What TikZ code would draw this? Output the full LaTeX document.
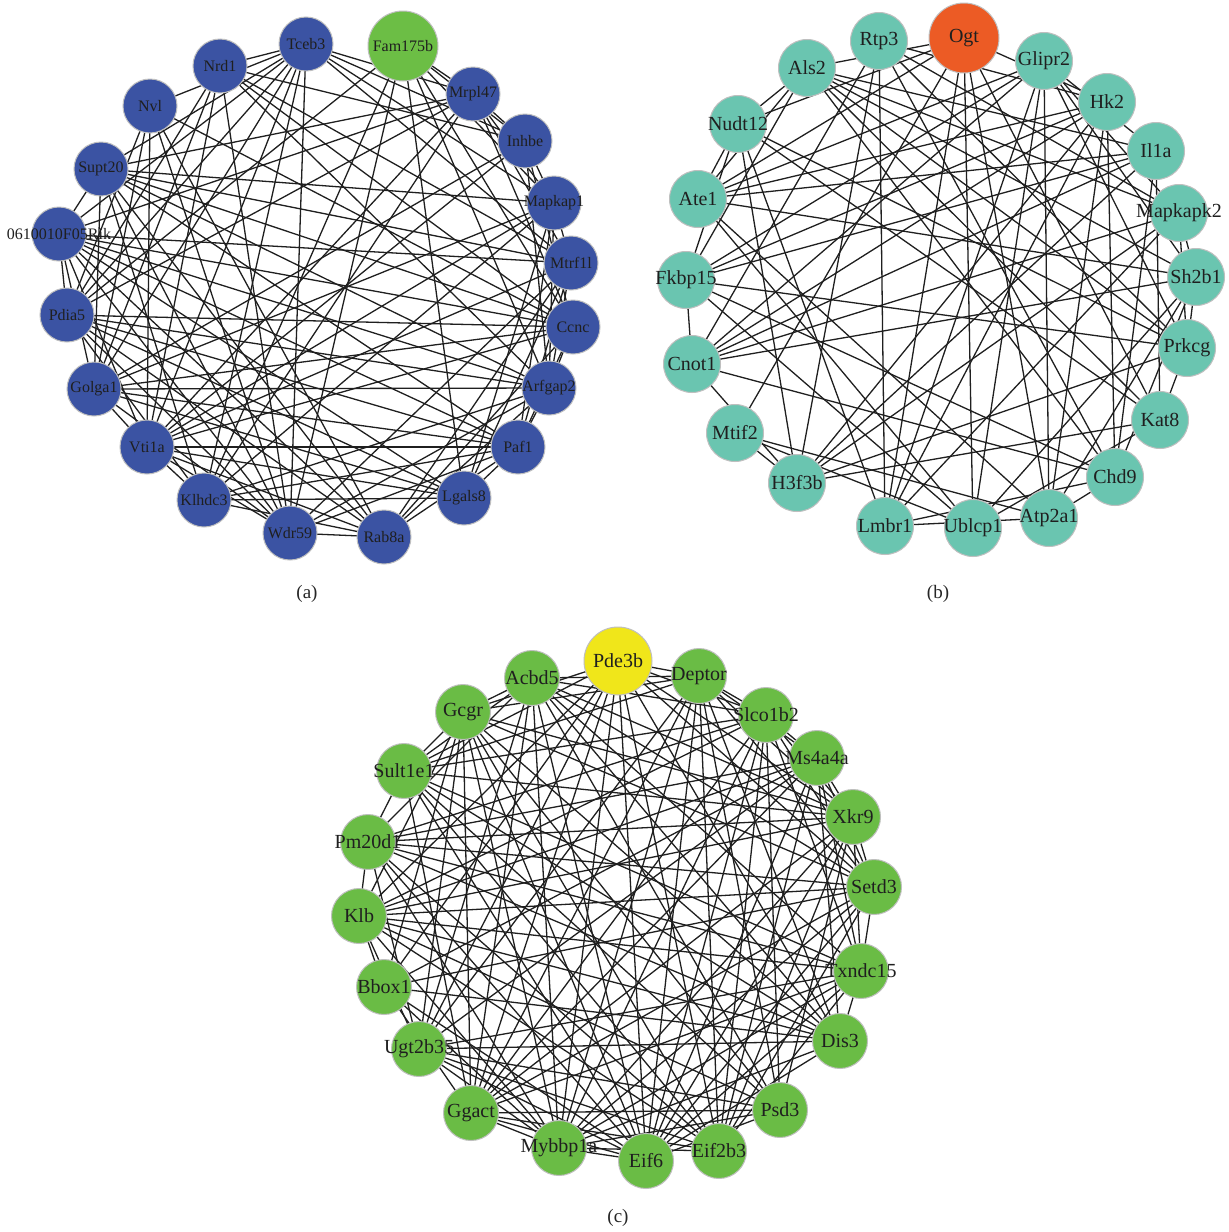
\documentclass[tikz,border=0pt]{standalone}
\usepackage{fontspec}
\setmainfont{Liberation Serif}
\pgfdeclarelayer{background}
\pgfdeclarelayer{canvas}
\pgfsetlayers{canvas,background,main}
\definecolor{ablue}{RGB}{59,83,163}
\definecolor{agreen}{RGB}{108,190,69}
\definecolor{bteal}{RGB}{106,197,176}
\definecolor{borange}{RGB}{236,91,37}
\definecolor{cyellow}{RGB}{240,230,26}
\definecolor{cgreen}{RGB}{106,188,69}
\newcommand\zw[1]{\makebox[0pt]{#1}}
\tikzset{
 gnode/.style={circle, inner sep=0pt, draw=black!25, line width=0.5pt, text=black!88},
 anode/.style={gnode, fill=ablue, minimum size=27pt, font=\fontsize{8}{9}\selectfont},
 ahub/.style={anode, fill=agreen, minimum size=35pt},
 bnode/.style={gnode, fill=bteal, minimum size=28.5pt, font=\fontsize{10}{11}\selectfont},
 bhub/.style={bnode, fill=borange, minimum size=35pt},
 cnode/.style={gnode, fill=cgreen, minimum size=27.5pt, font=\fontsize{10}{11}\selectfont},
 chub/.style={cnode, fill=cyellow, minimum size=34pt},
 edge/.style={draw=black!88, line width=0.65pt},
 panelcap/.style={font=\fontsize{9.5}{11}\selectfont, text=black!85}
}
\begin{document}
\begin{tikzpicture}[x=0.5pt,y=-0.5pt]
\begin{pgfonlayer}{canvas}
\fill[white] (0,0) rectangle (1229,1232);
\end{pgfonlayer}
\useasboundingbox (0,0) rectangle (1229,1232);
% ---------- (a) ----------
\node[anode] (a1) at (306,44) {\zw{Tceb3}};
\node[ahub]  (a2) at (403,46) {\zw{Fam175b}};
\node[anode] (a3) at (473,94) {\zw{Mrpl47}};
\node[anode] (a4) at (525,141) {\zw{Inhbe}};
\node[anode] (a5) at (554,203) {\zw{Mapkap1}};
\node[anode] (a6) at (571,263) {\zw{Mtrf1l}};
\node[anode] (a7) at (573,327) {\zw{Ccnc}};
\node[anode] (a8) at (549,388) {\zw{Arfgap2}};
\node[anode] (a9) at (518,447) {\zw{Paf1}};
\node[anode] (a10) at (464,498) {\zw{Lgals8}};
\node[anode] (a11) at (384,537) {\zw{Rab8a}};
\node[anode] (a12) at (290,533) {\zw{Wdr59}};
\node[anode] (a13) at (204,500) {\zw{Klhdc3}};
\node[anode] (a14) at (147,447) {\zw{Vti1a}};
\node[anode] (a15) at (94,389) {\zw{Golga1}};
\node[anode] (a16) at (67,315) {\zw{Pdia5}};
\node[anode] (a17) at (59,234) {\zw{0610010F05Rik}};
\node[anode] (a18) at (101,169) {\zw{Supt20}};
\node[anode] (a19) at (150,106) {\zw{Nvl}};
\node[anode] (a20) at (220,66) {\zw{Nrd1}};
\node[panelcap] (capa) at (307,594) {(a)};
% ---------- (b) ----------
\node[bnode] (b1) at (879,41) {\zw{Rtp3}};
\node[bhub]  (b2) at (964,38) {\zw{Ogt}};
\node[bnode] (b3) at (1044,61) {\zw{Glipr2}};
\node[bnode] (b4) at (1107,102) {\zw{Hk2}};
\node[bnode] (b5) at (1156,151) {\zw{Il1a}};
\node[bnode] (b6) at (1179,213) {\zw{Mapkapk2}};
\node[bnode] (b7) at (1196,277) {\zw{Sh2b1}};
\node[bnode] (b8) at (1187,348) {\zw{Prkcg}};
\node[bnode] (b9) at (1160,420) {\zw{Kat8}};
\node[bnode] (b10) at (1115,477) {\zw{Chd9}};
\node[bnode] (b11) at (1049,518) {\zw{Atp2a1}};
\node[bnode] (b12) at (973,528) {\zw{Ublcp1}};
\node[bnode] (b13) at (885,526) {\zw{Lmbr1}};
\node[bnode] (b14) at (797,483) {\zw{H3f3b}};
\node[bnode] (b15) at (735,433) {\zw{Mtif2}};
\node[bnode] (b16) at (692,364) {\zw{Cnot1}};
\node[bnode] (b17) at (686,280) {\zw{Fkbp15}};
\node[bnode] (b18) at (698,199) {\zw{Ate1}};
\node[bnode] (b19) at (738,124) {\zw{Nudt12}};
\node[bnode] (b20) at (807,68) {\zw{Als2}};
\node[panelcap] (capb) at (938,594) {(b)};
% ---------- (c) ----------
\node[chub]  (c1) at (618,661) {\zw{Pde3b}};
\node[cnode] (c2) at (699,676) {\zw{Deptor}};
\node[cnode] (c3) at (766,715) {\zw{Slco1b2}};
\node[cnode] (c4) at (817,758) {\zw{Ms4a4a}};
\node[cnode] (c5) at (853,817) {\zw{Xkr9}};
\node[cnode] (c6) at (874,887) {\zw{Setd3}};
\node[cnode] (c7) at (861,971) {\zw{Txndc15}};
\node[cnode] (c8) at (840,1041) {\zw{Dis3}};
\node[cnode] (c9) at (780,1110) {\zw{Psd3}};
\node[cnode] (c10) at (719,1151) {\zw{Eif2b3}};
\node[cnode] (c11) at (646,1161) {\zw{Eif6}};
\node[cnode] (c12) at (559,1148) {\zw{Mybbp1a}};
\node[cnode] (c13) at (471,1113) {\zw{Ggact}};
\node[cnode] (c14) at (419,1049) {\zw{Ugt2b35}};
\node[cnode] (c15) at (384,987) {\zw{Bbox1}};
\node[cnode] (c16) at (359,916) {\zw{Klb}};
\node[cnode] (c17) at (368,842) {\zw{Pm20d1}};
\node[cnode] (c18) at (404,771) {\zw{Sult1e1}};
\node[cnode] (c19) at (463,712) {\zw{Gcgr}};
\node[cnode] (c20) at (532,678) {\zw{Acbd5}};
\node[panelcap] (capc) at (618,1218) {(c)};
% ---------- edges ----------
\begin{pgfonlayer}{background}
\pgfmathsetseed{7}
\foreach \i in {1,...,19}{
  \pgfmathtruncatemacro\ip{\i+1}
  \foreach \j in {\ip,...,20}{
    \pgfmathtruncatemacro\keep{rnd<0.60?1:0}
    \ifnum\keep=1 \draw[edge] (a\i.center) -- (a\j.center);\fi
  }
}
\pgfmathsetseed{11}
\foreach \i in {1,...,19}{
  \pgfmathtruncatemacro\ip{\i+1}
  \foreach \j in {\ip,...,20}{
    \pgfmathtruncatemacro\keep{rnd<0.36?1:0}
    \ifnum\keep=1 \draw[edge] (b\i.center) -- (b\j.center);\fi
  }
}
\pgfmathsetseed{23}
\foreach \i in {1,...,19}{
  \pgfmathtruncatemacro\ip{\i+1}
  \foreach \j in {\ip,...,20}{
    \pgfmathtruncatemacro\keep{rnd<0.76?1:0}
    \ifnum\keep=1 \draw[edge] (c\i.center) -- (c\j.center);\fi
  }
}
\end{pgfonlayer}
\end{tikzpicture}
\end{document}
